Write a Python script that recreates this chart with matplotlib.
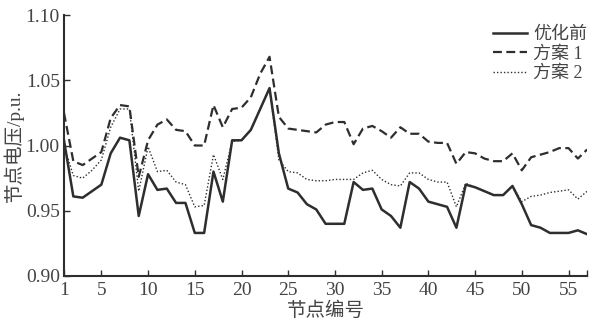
import matplotlib
matplotlib.use("Agg")
import matplotlib.pyplot as plt
import numpy as np

plt.rcParams["font.family"] = ["Liberation Serif", "Noto Sans CJK SC"]

nodes = np.arange(1, 58)

before = [1.004, 0.961, 0.960, 0.965, 0.970, 0.994, 1.006, 1.004, 0.946, 0.978,
          0.966, 0.967, 0.956, 0.956, 0.933, 0.933, 0.980, 0.957, 1.004, 1.004,
          1.012, 1.028, 1.044, 0.994, 0.967, 0.964, 0.955, 0.951, 0.940, 0.940,
          0.940, 0.972, 0.966, 0.967, 0.951, 0.946, 0.937, 0.972, 0.967, 0.957,
          0.955, 0.953, 0.937, 0.970, 0.968, 0.965, 0.962, 0.962, 0.969, 0.955,
          0.939, 0.937, 0.933, 0.933, 0.933, 0.935, 0.932]

plan1 = [1.025, 0.988, 0.985, 0.990, 0.995, 1.021, 1.031, 1.030, 0.976, 1.004,
         1.016, 1.020, 1.012, 1.011, 1.000, 1.000, 1.031, 1.014, 1.028, 1.029,
         1.037, 1.055, 1.068, 1.022, 1.013, 1.012, 1.011, 1.010, 1.016, 1.018,
         1.018, 1.001, 1.013, 1.015, 1.011, 1.006, 1.014, 1.009, 1.009, 1.003,
         1.002, 1.002, 0.986, 0.995, 0.994, 0.990, 0.988, 0.988, 0.994, 0.981,
         0.991, 0.993, 0.995, 0.998, 0.998, 0.990, 0.997]

plan2 = [1.000, 0.977, 0.975, 0.981, 0.989, 1.014, 1.028, 1.028, 0.965, 0.999,
         0.980, 0.981, 0.972, 0.970, 0.953, 0.954, 0.993, 0.974, 1.003, 1.004,
         1.012, 1.028, 1.044, 0.989, 0.980, 0.979, 0.974, 0.973, 0.973, 0.974,
         0.974, 0.974, 0.979, 0.981, 0.974, 0.970, 0.969, 0.979, 0.979, 0.974,
         0.972, 0.972, 0.953, 0.971, 0.968, 0.965, 0.962, 0.962, 0.969, 0.957,
         0.961, 0.962, 0.964, 0.965, 0.966, 0.959, 0.965]

labels = ["优化前", "方案 1", "方案 2"]
xticks = [1, 5, 10, 15, 20, 25, 30, 35, 40, 45, 50, 55]
yticks = [0.90, 0.95, 1.00, 1.05, 1.10]

fig = plt.figure(figsize=(6.07, 3.32), dpi=100)
ax = fig.add_axes([0.1054, 0.1687, 0.862, 0.786])

c = "#2e2e2e"
ax.plot(nodes, before, color=c, lw=1.8, ls="-", label=labels[0])
ax.plot(nodes, plan1, color=c, lw=1.6, ls=(0, (4, 2)), label=labels[1])
ax.plot(nodes, plan2, color=c, lw=1.0, ls=(0, (1, 1.5)), label=labels[2])

ax.set_xlim(1, 57)
ax.set_ylim(0.90, 1.10)
ax.set_xticks(xticks + [57])
ax.set_xticklabels([str(t) for t in xticks] + [""])
ax.set_yticks(yticks)
ax.set_yticklabels([f"{t:.2f}" for t in yticks])

for s in ["top", "right"]:
    ax.spines[s].set_visible(False)
for s in ["left", "bottom"]:
    ax.spines[s].set_linewidth(1.5)
    ax.spines[s].set_color(c)
ax.tick_params(direction="in", length=4, width=1, colors=c, labelsize=14,
               labelcolor="#444444")
ax.tick_params(axis="x", pad=4)
ax.tick_params(axis="y", pad=3)

ax.set_xlabel("节点编号", fontsize=14, color="#444444", labelpad=2)
ax.set_ylabel("节点电压/p.u.", fontsize=14, color="#444444", labelpad=1)

leg = ax.legend(loc="upper right", bbox_to_anchor=(1.02, 1.0), frameon=False,
                fontsize=13, handlelength=1.9, handletextpad=0.3,
                labelspacing=0.15, borderaxespad=0.2)
for t in leg.get_texts():
    t.set_color("#444444")

fig.savefig("out.png", dpi=100)
